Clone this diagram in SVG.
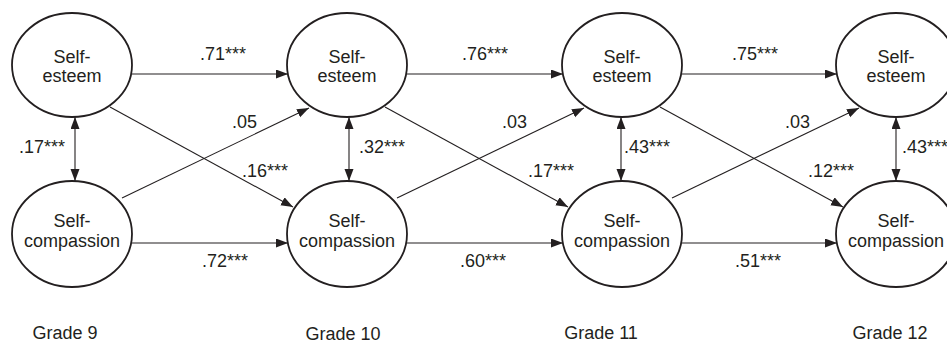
<svg xmlns="http://www.w3.org/2000/svg" width="947" height="347" viewBox="0 0 947 347">
<style>
  .node ellipse { fill: #ffffff; stroke: #231f20; stroke-width: 1.8; }
  .node text { font-family: "Liberation Sans", Arial, sans-serif; font-size: 18px; fill: #231f20; text-anchor: middle; }
  .conn line { stroke: #231f20; stroke-width: 1.1; fill: none; }
  .arr { marker-end: url(#ah); }
  .bi { marker-end: url(#ah); marker-start: url(#ah); }
  .lbl { font-family: "Liberation Sans", Arial, sans-serif; font-size: 18px; fill: #231f20; }
  .grade { font-family: "Liberation Sans", Arial, sans-serif; font-size: 18px; fill: #231f20; text-anchor: middle; }
</style>
<defs>
  <marker id="ah" markerUnits="userSpaceOnUse" markerWidth="13" markerHeight="10" refX="12" refY="4.5" orient="auto-start-reverse">
    <path d="M0,0 L12,4.5 L0,9 z" fill="#231f20"/>
  </marker>
</defs>
<rect width="947" height="347" fill="#ffffff"/>

<g id="connectors" class="conn">
  <line class="arr" x1="132" y1="74" x2="288" y2="74"/>
  <line class="arr" x1="407" y1="74" x2="563" y2="74"/>
  <line class="arr" x1="682" y1="74" x2="837" y2="74"/>
  <line class="arr" x1="132" y1="243" x2="288" y2="243"/>
  <line class="arr" x1="407" y1="243" x2="563" y2="243"/>
  <line class="arr" x1="682" y1="243" x2="837" y2="243"/>
  <line class="bi" x1="75" y1="117" x2="75" y2="181"/>
  <line class="bi" x1="349" y1="117" x2="349" y2="181"/>
  <line class="bi" x1="621" y1="117" x2="621" y2="181"/>
  <line class="bi" x1="896" y1="117" x2="896" y2="181"/>
  <line class="arr" x1="110" y1="107" x2="293" y2="207"/>
  <line class="arr" x1="385" y1="107" x2="568" y2="207"/>
  <line class="arr" x1="660" y1="107" x2="843" y2="207"/>
  <line class="arr" x1="122" y1="198" x2="309" y2="108"/>
  <line class="arr" x1="397" y1="198" x2="584" y2="108"/>
  <line class="arr" x1="672" y1="198" x2="859" y2="108"/>
</g>

<g id="se9" class="node">
  <ellipse cx="72" cy="65" rx="60" ry="52"/>
  <text x="72" y="63">Self-</text>
  <text x="72" y="82">esteem</text>
</g>
<g id="se10" class="node">
  <ellipse cx="347" cy="65" rx="60" ry="52"/>
  <text x="347" y="63">Self-</text>
  <text x="347" y="82">esteem</text>
</g>
<g id="se11" class="node">
  <ellipse cx="622" cy="65" rx="60" ry="52"/>
  <text x="622" y="63">Self-</text>
  <text x="622" y="82">esteem</text>
</g>
<g id="se12" class="node">
  <ellipse cx="896" cy="65" rx="60" ry="52"/>
  <text x="896" y="63">Self-</text>
  <text x="896" y="82">esteem</text>
</g>

<g id="sc9" class="node">
  <ellipse cx="72" cy="234" rx="60" ry="53"/>
  <text x="72" y="227">Self-</text>
  <text x="72" y="247">compassion</text>
</g>
<g id="sc10" class="node">
  <ellipse cx="347" cy="234" rx="60" ry="53"/>
  <text x="347" y="227">Self-</text>
  <text x="347" y="247">compassion</text>
</g>
<g id="sc11" class="node">
  <ellipse cx="622" cy="234" rx="60" ry="53"/>
  <text x="622" y="227">Self-</text>
  <text x="622" y="247">compassion</text>
</g>
<g id="sc12" class="node">
  <ellipse cx="896" cy="234" rx="60" ry="53"/>
  <text x="896" y="227">Self-</text>
  <text x="896" y="247">compassion</text>
</g>

<g id="labels" class="lbl">
  <text x="200" y="60">.71***</text>
  <text x="462" y="60">.76***</text>
  <text x="732" y="60">.75***</text>
  <text x="202" y="267">.72***</text>
  <text x="460" y="267">.60***</text>
  <text x="735" y="267">.51***</text>
  <text x="19" y="153">.17***</text>
  <text x="359" y="153">.32***</text>
  <text x="624" y="153">.43***</text>
  <text x="902" y="153">.43***</text>
  <text x="232" y="128">.05</text>
  <text x="502" y="128">.03</text>
  <text x="785" y="128">.03</text>
  <text x="242" y="177">.16***</text>
  <text x="528" y="177">.17***</text>
  <text x="808" y="177">.12***</text>
</g>

<g id="grades">
  <text class="grade" x="65" y="339">Grade 9</text>
  <text class="grade" x="343" y="340">Grade 10</text>
  <text class="grade" x="601" y="339">Grade 11</text>
  <text class="grade" x="890" y="339">Grade 12</text>
</g>
</svg>
